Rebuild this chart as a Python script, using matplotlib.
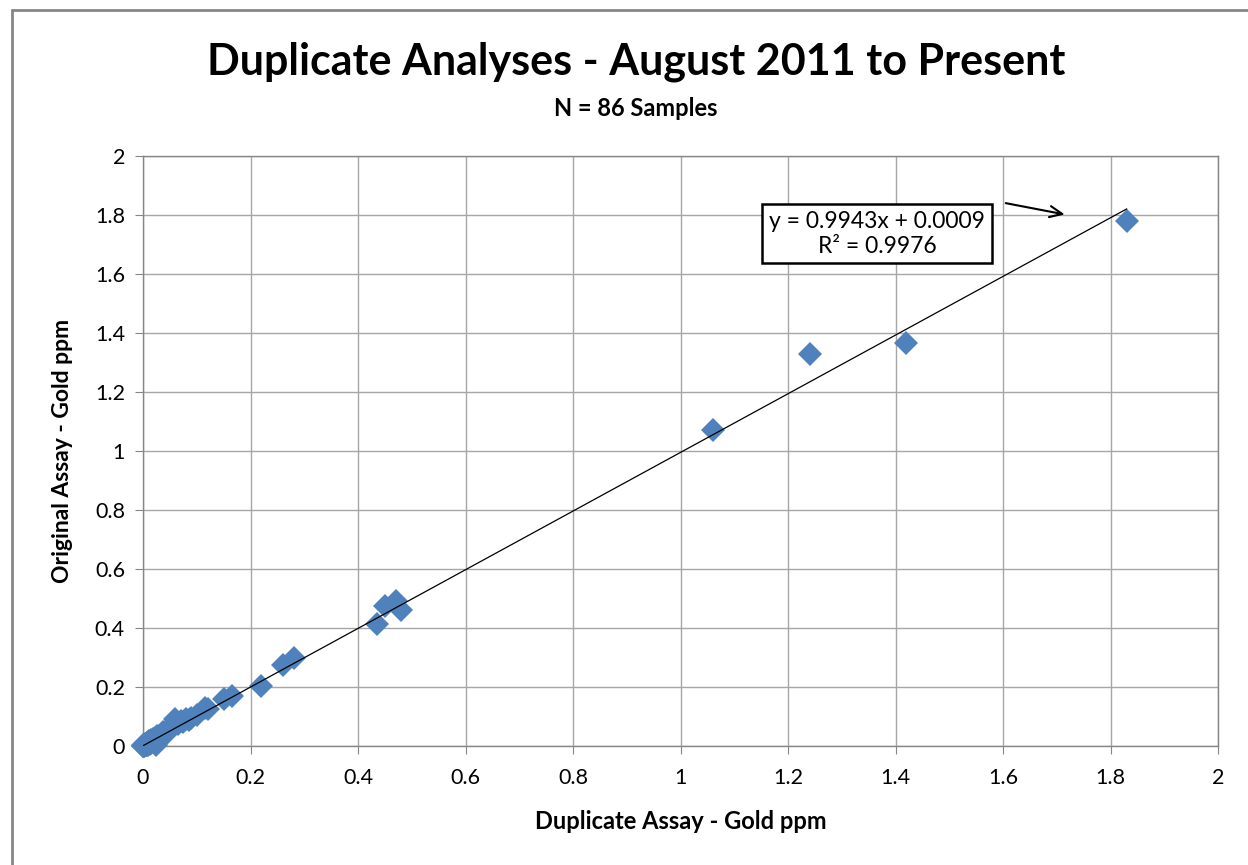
import matplotlib.pyplot as plt
from matplotlib.patches import Rectangle

plt.rcParams['font.family'] = ['Lato', 'DejaVu Sans']

# --- data ---
dup_assay = [1.83, 1.42, 1.24, 1.06, 0.47, 0.45, 0.48, 0.435, 0.28, 0.26,
             0.22, 0.165, 0.15, 0.12, 0.115, 0.10, 0.09, 0.08, 0.07, 0.06,
             0.055, 0.050, 0.048, 0.045, 0.043, 0.040, 0.038, 0.036, 0.035, 0.033, 0.032,
             0.030, 0.030, 0.028, 0.027, 0.026, 0.025, 0.025, 0.024, 0.023, 0.022, 0.020,
             0.020, 0.019, 0.018, 0.017, 0.016, 0.015, 0.015, 0.014, 0.013, 0.012, 0.012,
             0.011, 0.010, 0.010, 0.009, 0.009, 0.008, 0.008, 0.007, 0.007, 0.006, 0.006,
             0.005, 0.005, 0.005, 0.004, 0.004, 0.004, 0.003, 0.003, 0.003, 0.002, 0.002,
             0.002, 0.001, 0.001, 0.001, 0.001, 0.000, 0.000, 0.000, 0.065, 0.075, 0.085]
orig_assay = [1.78, 1.365, 1.33, 1.07, 0.49, 0.475, 0.46, 0.415, 0.30, 0.275,
              0.205, 0.17, 0.16, 0.125, 0.13, 0.105, 0.095, 0.09, 0.085, 0.09,
              0.075, 0.062, 0.055, 0.050, 0.040, 0.045, 0.048, 0.036, 0.030, 0.038, 0.028,
              0.035, 0.025, 0.030, 0.022, 0.033, 0.020, 0.028, 0.005, 0.026, 0.018, 0.022,
              0.015, 0.025, 0.020, 0.012, 0.018, 0.010, 0.020, 0.015, 0.008, 0.013, 0.016,
              0.012, 0.005, 0.010, 0.008, 0.012, 0.006, 0.010, 0.009, 0.004, 0.005, 0.008,
              0.003, 0.006, 0.007, 0.004, 0.002, 0.006, 0.005, 0.002, 0.004, 0.003, 0.001,
              0.002, 0.002, 0.000, 0.001, 0.003, 0.000, 0.001, 0.002, 0.075, 0.080, 0.088]

slope = 0.9943
intercept = 0.0009
r_squared = 0.9976

ticks = [0, 0.2, 0.4, 0.6, 0.8, 1, 1.2, 1.4, 1.6, 1.8, 2]
tick_labels = ['0', '0.2', '0.4', '0.6', '0.8', '1', '1.2', '1.4', '1.6', '1.8', '2']

fig = plt.figure(figsize=(12.48, 8.65), dpi=100)
ax = fig.add_axes([143 / 1248, 1 - 746 / 865, 1075 / 1248, 590 / 865])

# outer chart border (only left/top visible in the crop)
fig.patches.append(Rectangle((12 / 1248, -0.2), 1.2, 1.2 - 10 / 865,
                             transform=fig.transFigure, fill=False,
                             edgecolor='#868686', linewidth=2))

ax.grid(True, color='#a6a6a6', linewidth=1)
ax.set_axisbelow(True)

ax.plot(dup_assay, orig_assay, linestyle='none', marker='D', markersize=12,
        color='#4f81bd', markeredgewidth=0, zorder=3, clip_on=False)

x_fit = [min(dup_assay), max(dup_assay)]
y_fit = [slope * v + intercept for v in x_fit]
ax.plot(x_fit, y_fit, color='black', linewidth=0.9, zorder=4)

ax.set_xlim(0, 2)
ax.set_ylim(0, 2)
ax.set_xticks(ticks)
ax.set_xticklabels(tick_labels)
ax.set_yticks(ticks)
ax.set_yticklabels(tick_labels)
ax.tick_params(direction='out', length=6, color='#868686', labelsize=15.5)
ax.tick_params(axis='x', pad=10)
ax.tick_params(axis='y', pad=7)
for s in ax.spines.values():
    s.set_color('#868686')
    s.set_linewidth(1)

ax.set_xlabel('Duplicate Assay - Gold ppm', fontsize=17, fontweight='bold', labelpad=16)
ax.set_ylabel('Original Assay - Gold ppm', fontsize=16.5, fontweight='bold', labelpad=16)

fig.text(636 / 1248, 1 - 62 / 865, 'Duplicate Analyses - August 2011 to Present',
         ha='center', va='center', fontsize=31, fontweight='bold')
fig.text(636 / 1248, 1 - 108 / 865, 'N = 86 Samples', ha='center', va='center',
         fontsize=17, fontweight='bold')

ax.text(1.366, 1.736, f'y = {slope}x + {intercept:.4f}\nR² = {r_squared}',
        ha='center', va='center', fontsize=16.5, linespacing=1.2, zorder=5,
        bbox=dict(boxstyle='square,pad=0.3', facecolor='white',
                  edgecolor='black', linewidth=1.8))
ax.annotate('', xy=(1.72, 1.80), xytext=(1.6, 1.842),
            arrowprops=dict(arrowstyle='->,head_length=0.9,head_width=0.4',
                            color='black', linewidth=1.5))

fig.savefig('out.png', dpi=100)
